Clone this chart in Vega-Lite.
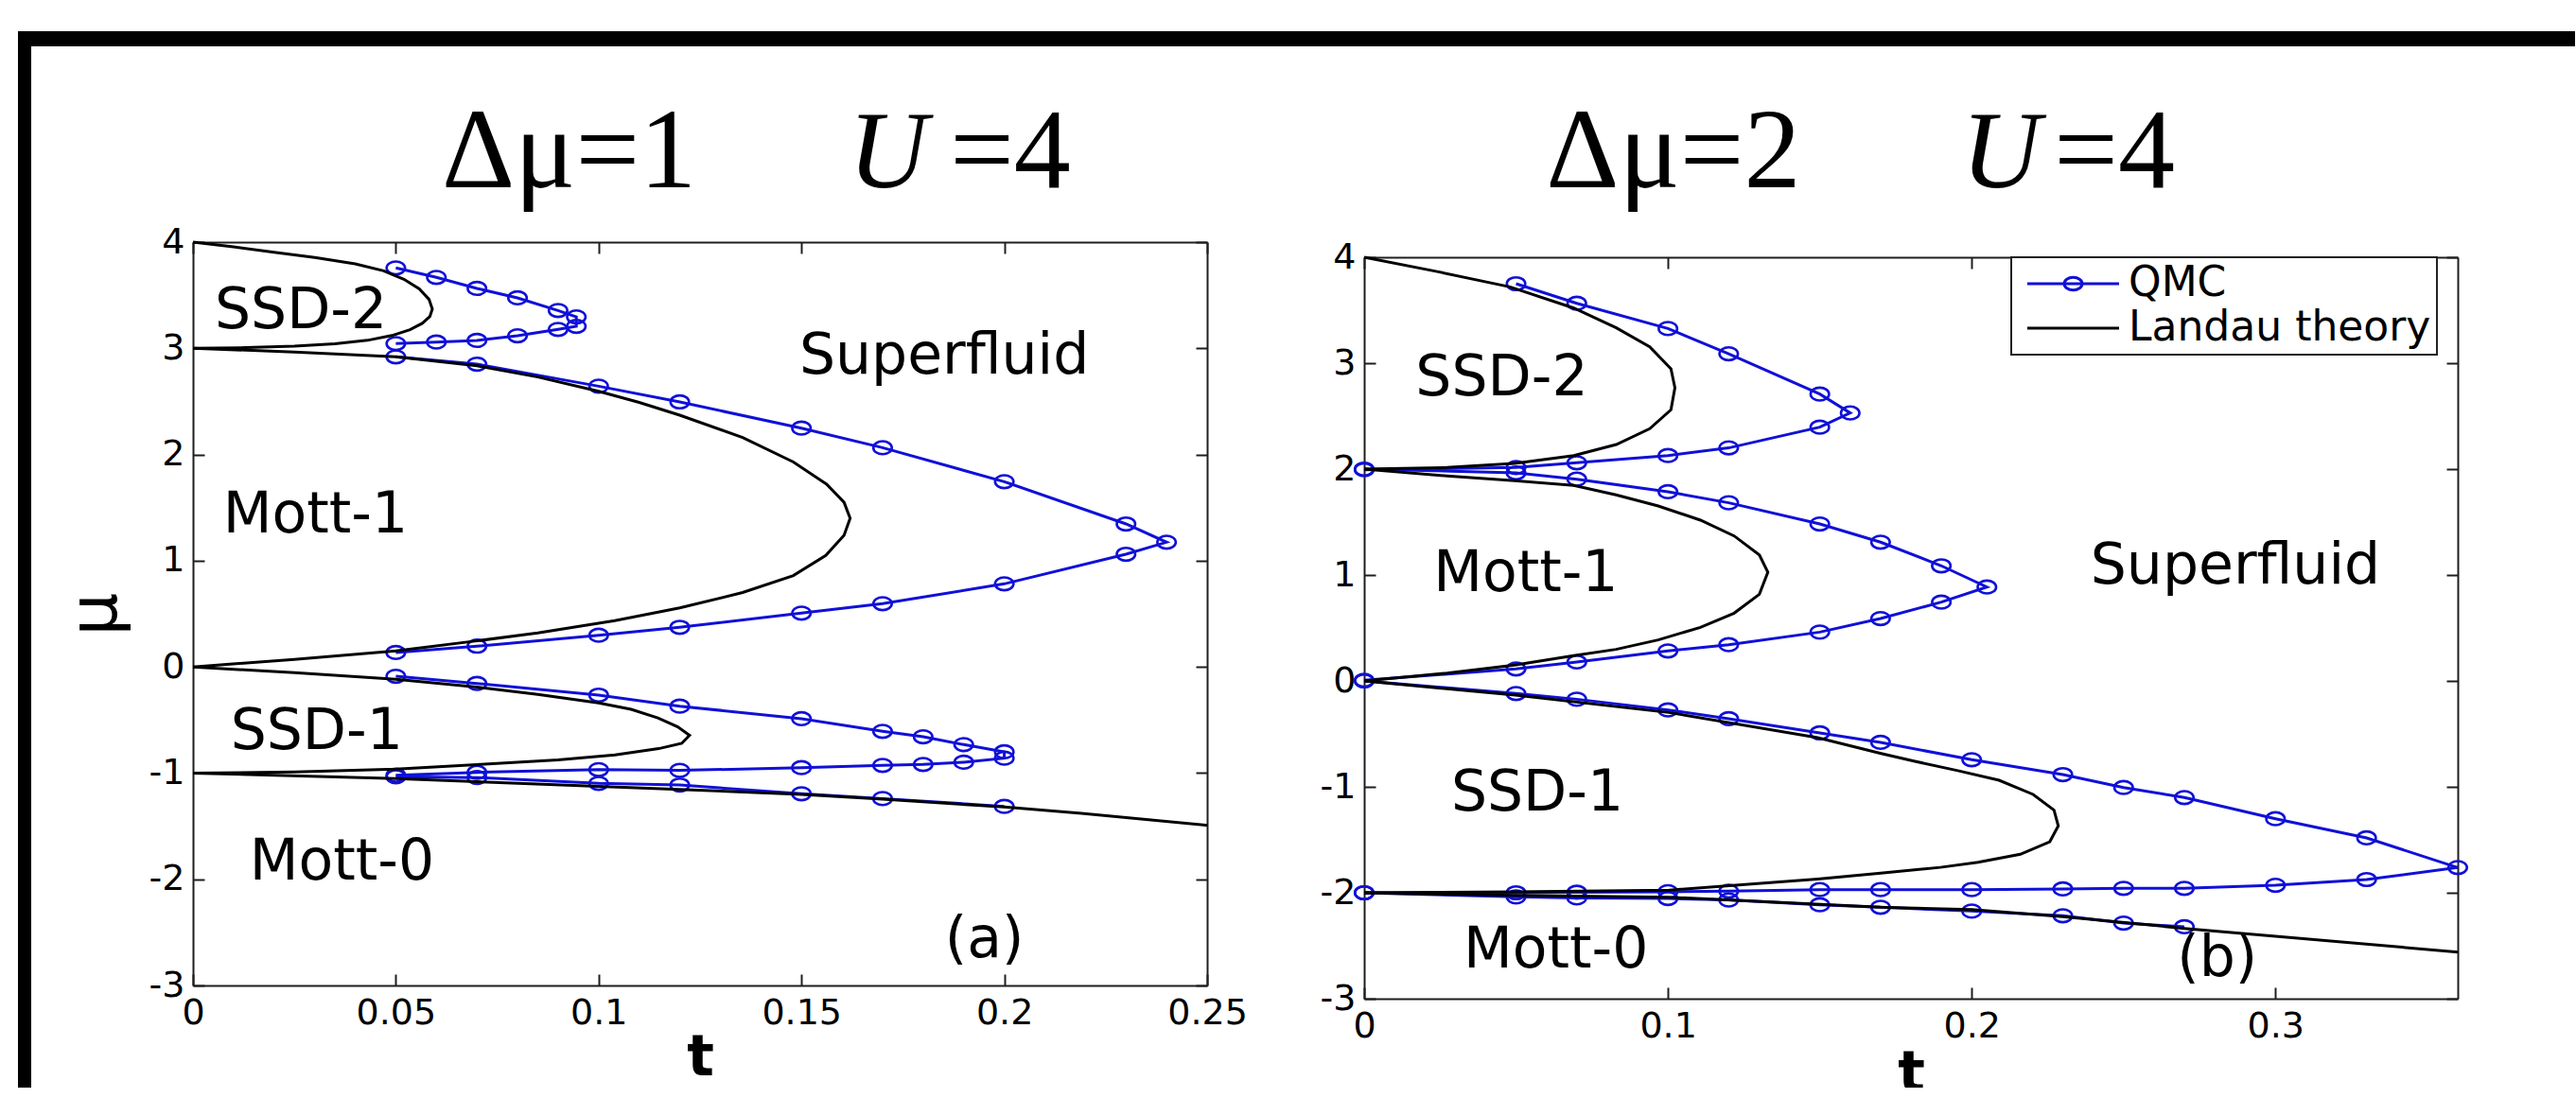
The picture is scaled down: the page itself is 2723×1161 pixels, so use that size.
{
"$schema": "https://vega.github.io/schema/vega-lite/v6.json",
"background": "#ffffff",
"padding": {"left": 18, "top": 33, "right": -3, "bottom": -15},
"config": {
  "view": {"stroke": null},
  "axis": {"grid": false, "domainColor": "#1e1e1e", "domainWidth": 2, "tickColor": "#1e1e1e", "tickWidth": 2, "tickSize": -12, "labelFont": "DejaVu Sans", "labelFontSize": 38, "labelColor": "#000000", "labelFlush": false, "labelOverlap": false, "titleColor": "#000000"},
  "legend": {"strokeWidth": 2}
},
"datasets": {
  "frame": [
    {"x1": -0.043144, "x2": 0.587687, "y1": 5.986, "y2": 5.8435},
    {"x1": -0.043144, "x2": -0.039879, "y1": 5.986, "y2": -4.0598}
  ],
  "leftLandau": [
    {"c":"a1","i":0,"t":0,"mu":4},{"c":"a1","i":1,"t":0.01,"mu":3.955},{"c":"a1","i":2,"t":0.02,"mu":3.905},{"c":"a1","i":3,"t":0.03,"mu":3.855},{"c":"a1","i":4,"t":0.04,"mu":3.795},{"c":"a1","i":5,"t":0.047,"mu":3.73},{"c":"a1","i":6,"t":0.052,"mu":3.65},{"c":"a1","i":7,"t":0.0558,"mu":3.56},{"c":"a1","i":8,"t":0.0582,"mu":3.46},{"c":"a1","i":9,"t":0.059,"mu":3.37},{"c":"a1","i":10,"t":0.0584,"mu":3.3},{"c":"a1","i":11,"t":0.0565,"mu":3.235},{"c":"a1","i":12,"t":0.0535,"mu":3.175},{"c":"a1","i":13,"t":0.049,"mu":3.12},{"c":"a1","i":14,"t":0.043,"mu":3.075},{"c":"a1","i":15,"t":0.035,"mu":3.042},{"c":"a1","i":16,"t":0.025,"mu":3.02},{"c":"a1","i":17,"t":0.013,"mu":3.006},{"c":"a1","i":18,"t":0,"mu":3},
    {"c":"a2","i":0,"t":0,"mu":3},{"c":"a2","i":1,"t":0.025,"mu":2.965},{"c":"a2","i":2,"t":0.05,"mu":2.92},{"c":"a2","i":3,"t":0.07,"mu":2.835},{"c":"a2","i":4,"t":0.085,"mu":2.73},{"c":"a2","i":5,"t":0.1,"mu":2.595},{"c":"a2","i":6,"t":0.11,"mu":2.49},{"c":"a2","i":7,"t":0.12,"mu":2.37},{"c":"a2","i":8,"t":0.1355,"mu":2.16},{"c":"a2","i":9,"t":0.148,"mu":1.93},{"c":"a2","i":10,"t":0.1562,"mu":1.72},{"c":"a2","i":11,"t":0.1605,"mu":1.55},{"c":"a2","i":12,"t":0.162,"mu":1.4},{"c":"a2","i":13,"t":0.1605,"mu":1.24},{"c":"a2","i":14,"t":0.156,"mu":1.05},{"c":"a2","i":15,"t":0.148,"mu":0.86},{"c":"a2","i":16,"t":0.1355,"mu":0.7},{"c":"a2","i":17,"t":0.12,"mu":0.555},{"c":"a2","i":18,"t":0.104,"mu":0.435},{"c":"a2","i":19,"t":0.085,"mu":0.32},{"c":"a2","i":20,"t":0.07,"mu":0.245},{"c":"a2","i":21,"t":0.05,"mu":0.15},{"c":"a2","i":22,"t":0.025,"mu":0.07},{"c":"a2","i":23,"t":0,"mu":0},
    {"c":"a3","i":0,"t":0,"mu":0},{"c":"a3","i":1,"t":0.025,"mu":-0.055},{"c":"a3","i":2,"t":0.05,"mu":-0.117},{"c":"a3","i":3,"t":0.07,"mu":-0.19},{"c":"a3","i":4,"t":0.085,"mu":-0.26},{"c":"a3","i":5,"t":0.1,"mu":-0.34},{"c":"a3","i":6,"t":0.108,"mu":-0.4},{"c":"a3","i":7,"t":0.1146,"mu":-0.48},{"c":"a3","i":8,"t":0.1195,"mu":-0.565},{"c":"a3","i":9,"t":0.1224,"mu":-0.645},{"c":"a3","i":10,"t":0.1205,"mu":-0.72},{"c":"a3","i":11,"t":0.1148,"mu":-0.77},{"c":"a3","i":12,"t":0.104,"mu":-0.83},{"c":"a3","i":13,"t":0.09,"mu":-0.875},{"c":"a3","i":14,"t":0.07,"mu":-0.92},{"c":"a3","i":15,"t":0.05,"mu":-0.962},{"c":"a3","i":16,"t":0.025,"mu":-0.99},{"c":"a3","i":17,"t":0,"mu":-1},
    {"c":"a4","i":0,"t":0,"mu":-1},{"c":"a4","i":1,"t":0.05,"mu":-1.052},{"c":"a4","i":2,"t":0.1,"mu":-1.125},{"c":"a4","i":3,"t":0.15,"mu":-1.2},{"c":"a4","i":4,"t":0.17,"mu":-1.246},{"c":"a4","i":5,"t":0.2,"mu":-1.32},{"c":"a4","i":6,"t":0.219,"mu":-1.379},{"c":"a4","i":7,"t":0.25,"mu":-1.492}
  ],
  "leftQMC": [
    {"c":"q1","i":0,"t":0.05,"mu":3.757},{"c":"q1","i":1,"t":0.06,"mu":3.668},{"c":"q1","i":2,"t":0.07,"mu":3.564},{"c":"q1","i":3,"t":0.08,"mu":3.475},{"c":"q1","i":4,"t":0.09,"mu":3.356},{"c":"q1","i":5,"t":0.0945,"mu":3.296},{"c":"q1","i":6,"t":0.0945,"mu":3.207},{"c":"q1","i":7,"t":0.09,"mu":3.178},{"c":"q1","i":8,"t":0.08,"mu":3.118},{"c":"q1","i":9,"t":0.07,"mu":3.074},{"c":"q1","i":10,"t":0.06,"mu":3.059},{"c":"q1","i":11,"t":0.05,"mu":3.044},
    {"c":"q2","i":0,"t":0.05,"mu":2.92},{"c":"q2","i":1,"t":0.07,"mu":2.851},{"c":"q2","i":2,"t":0.1,"mu":2.643},{"c":"q2","i":3,"t":0.12,"mu":2.495},{"c":"q2","i":4,"t":0.15,"mu":2.248},{"c":"q2","i":5,"t":0.17,"mu":2.064},{"c":"q2","i":6,"t":0.2,"mu":1.744},{"c":"q2","i":7,"t":0.23,"mu":1.346},{"c":"q2","i":8,"t":0.24,"mu":1.174},{"c":"q2","i":9,"t":0.23,"mu":1.061},{"c":"q2","i":10,"t":0.2,"mu":0.782},{"c":"q2","i":11,"t":0.17,"mu":0.595},{"c":"q2","i":12,"t":0.15,"mu":0.506},{"c":"q2","i":13,"t":0.12,"mu":0.373},{"c":"q2","i":14,"t":0.1,"mu":0.298},{"c":"q2","i":15,"t":0.07,"mu":0.195},{"c":"q2","i":16,"t":0.05,"mu":0.135},
    {"c":"q3","i":0,"t":0.05,"mu":-0.088},{"c":"q3","i":1,"t":0.07,"mu":-0.156},{"c":"q3","i":2,"t":0.1,"mu":-0.266},{"c":"q3","i":3,"t":0.12,"mu":-0.37},{"c":"q3","i":4,"t":0.15,"mu":-0.488},{"c":"q3","i":5,"t":0.17,"mu":-0.607},{"c":"q3","i":6,"t":0.18,"mu":-0.658},{"c":"q3","i":7,"t":0.19,"mu":-0.732},{"c":"q3","i":8,"t":0.2,"mu":-0.8},{"c":"q3","i":9,"t":0.2,"mu":-0.86},{"c":"q3","i":10,"t":0.19,"mu":-0.898},{"c":"q3","i":11,"t":0.18,"mu":-0.919},{"c":"q3","i":12,"t":0.17,"mu":-0.928},{"c":"q3","i":13,"t":0.15,"mu":-0.949},{"c":"q3","i":14,"t":0.12,"mu":-0.975},{"c":"q3","i":15,"t":0.1,"mu":-0.968},{"c":"q3","i":16,"t":0.07,"mu":-0.993},{"c":"q3","i":17,"t":0.05,"mu":-1.02},
    {"c":"q4","i":0,"t":0.05,"mu":-1.035},{"c":"q4","i":1,"t":0.07,"mu":-1.042},{"c":"q4","i":2,"t":0.1,"mu":-1.097},{"c":"q4","i":3,"t":0.12,"mu":-1.112},{"c":"q4","i":4,"t":0.15,"mu":-1.195},{"c":"q4","i":5,"t":0.17,"mu":-1.24},{"c":"q4","i":6,"t":0.2,"mu":-1.314}
  ],
  "rightLandau": [
    {"c":"b1","i":0,"t":0,"mu":4},{"c":"b1","i":1,"t":0.024,"mu":3.865},{"c":"b1","i":2,"t":0.048,"mu":3.72},{"c":"b1","i":3,"t":0.069,"mu":3.52},{"c":"b1","i":4,"t":0.083,"mu":3.333},{"c":"b1","i":5,"t":0.094,"mu":3.155},{"c":"b1","i":6,"t":0.101,"mu":2.946},{"c":"b1","i":7,"t":0.1023,"mu":2.768},{"c":"b1","i":8,"t":0.101,"mu":2.56},{"c":"b1","i":9,"t":0.094,"mu":2.381},{"c":"b1","i":10,"t":0.083,"mu":2.232},{"c":"b1","i":11,"t":0.069,"mu":2.128},{"c":"b1","i":12,"t":0.0495,"mu":2.054},{"c":"b1","i":13,"t":0.0273,"mu":2.015},{"c":"b1","i":14,"t":0,"mu":2},
    {"c":"b2","i":0,"t":0,"mu":2},{"c":"b2","i":1,"t":0.0273,"mu":1.935},{"c":"b2","i":2,"t":0.0495,"mu":1.89},{"c":"b2","i":3,"t":0.069,"mu":1.845},{"c":"b2","i":4,"t":0.0829,"mu":1.756},{"c":"b2","i":5,"t":0.0968,"mu":1.652},{"c":"b2","i":6,"t":0.1107,"mu":1.518},{"c":"b2","i":7,"t":0.1218,"mu":1.369},{"c":"b2","i":8,"t":0.1301,"mu":1.19},{"c":"b2","i":9,"t":0.1329,"mu":1.027},{"c":"b2","i":10,"t":0.1301,"mu":0.818},{"c":"b2","i":11,"t":0.1218,"mu":0.64},{"c":"b2","i":12,"t":0.1107,"mu":0.506},{"c":"b2","i":13,"t":0.0968,"mu":0.387},{"c":"b2","i":14,"t":0.0829,"mu":0.298},{"c":"b2","i":15,"t":0.069,"mu":0.238},{"c":"b2","i":16,"t":0.0495,"mu":0.149},{"c":"b2","i":17,"t":0.0273,"mu":0.074},{"c":"b2","i":18,"t":0,"mu":0},
    {"c":"b3","i":0,"t":0,"mu":0},{"c":"b3","i":1,"t":0.0498,"mu":-0.134},{"c":"b3","i":2,"t":0.1003,"mu":-0.298},{"c":"b3","i":3,"t":0.1493,"mu":-0.536},{"c":"b3","i":4,"t":0.1702,"mu":-0.685},{"c":"b3","i":5,"t":0.1813,"mu":-0.759},{"c":"b3","i":6,"t":0.1951,"mu":-0.845},{"c":"b3","i":7,"t":0.209,"mu":-0.938},{"c":"b3","i":8,"t":0.2202,"mu":-1.071},{"c":"b3","i":9,"t":0.2271,"mu":-1.22},{"c":"b3","i":10,"t":0.2285,"mu":-1.369},{"c":"b3","i":11,"t":0.2257,"mu":-1.518},{"c":"b3","i":12,"t":0.216,"mu":-1.637},{"c":"b3","i":13,"t":0.2021,"mu":-1.712},{"c":"b3","i":14,"t":0.1897,"mu":-1.76},{"c":"b3","i":15,"t":0.17,"mu":-1.815},{"c":"b3","i":16,"t":0.1493,"mu":-1.87},{"c":"b3","i":17,"t":0.1003,"mu":-1.975},{"c":"b3","i":18,"t":0.0498,"mu":-1.99},{"c":"b3","i":19,"t":0,"mu":-2},
    {"c":"b4","i":0,"t":0,"mu":-2},{"c":"b4","i":1,"t":0.0498,"mu":-2.024},{"c":"b4","i":2,"t":0.1003,"mu":-2.042},{"c":"b4","i":3,"t":0.17,"mu":-2.137},{"c":"b4","i":4,"t":0.2,"mu":-2.158},{"c":"b4","i":5,"t":0.23,"mu":-2.226},{"c":"b4","i":6,"t":0.27,"mu":-2.336},{"c":"b4","i":7,"t":0.3,"mu":-2.41},{"c":"b4","i":8,"t":0.36,"mu":-2.56}
  ],
  "rightQMC": [
    {"c":"p1","i":0,"t":0.05,"mu":3.75},{"c":"p1","i":1,"t":0.07,"mu":3.565},{"c":"p1","i":2,"t":0.1,"mu":3.327},{"c":"p1","i":3,"t":0.12,"mu":3.089},{"c":"p1","i":4,"t":0.15,"mu":2.708},{"c":"p1","i":5,"t":0.16,"mu":2.53},{"c":"p1","i":6,"t":0.15,"mu":2.396},{"c":"p1","i":7,"t":0.12,"mu":2.2},{"c":"p1","i":8,"t":0.1,"mu":2.128},{"c":"p1","i":9,"t":0.07,"mu":2.06},{"c":"p1","i":10,"t":0.05,"mu":2.015},{"c":"p1","i":11,"t":0,"mu":1.994},
    {"c":"p2","i":0,"t":0,"mu":2},{"c":"p2","i":1,"t":0.05,"mu":1.964},{"c":"p2","i":2,"t":0.07,"mu":1.905},{"c":"p2","i":3,"t":0.1,"mu":1.786},{"c":"p2","i":4,"t":0.12,"mu":1.682},{"c":"p2","i":5,"t":0.15,"mu":1.482},{"c":"p2","i":6,"t":0.17,"mu":1.31},{"c":"p2","i":7,"t":0.19,"mu":1.087},{"c":"p2","i":8,"t":0.205,"mu":0.887},{"c":"p2","i":9,"t":0.19,"mu":0.744},{"c":"p2","i":10,"t":0.17,"mu":0.589},{"c":"p2","i":11,"t":0.15,"mu":0.461},{"c":"p2","i":12,"t":0.12,"mu":0.342},{"c":"p2","i":13,"t":0.1,"mu":0.283},{"c":"p2","i":14,"t":0.07,"mu":0.179},{"c":"p2","i":15,"t":0.05,"mu":0.113},{"c":"p2","i":16,"t":0,"mu":0.006},
    {"c":"p3","i":0,"t":0,"mu":0},{"c":"p3","i":1,"t":0.05,"mu":-0.119},{"c":"p3","i":2,"t":0.07,"mu":-0.173},{"c":"p3","i":3,"t":0.1,"mu":-0.274},{"c":"p3","i":4,"t":0.12,"mu":-0.357},{"c":"p3","i":5,"t":0.15,"mu":-0.491},{"c":"p3","i":6,"t":0.17,"mu":-0.58},{"c":"p3","i":7,"t":0.2,"mu":-0.744},{"c":"p3","i":8,"t":0.23,"mu":-0.884},{"c":"p3","i":9,"t":0.25,"mu":-1.006},{"c":"p3","i":10,"t":0.27,"mu":-1.101},{"c":"p3","i":11,"t":0.3,"mu":-1.301},{"c":"p3","i":12,"t":0.33,"mu":-1.482},{"c":"p3","i":13,"t":0.36,"mu":-1.762},{"c":"p3","i":14,"t":0.33,"mu":-1.875},{"c":"p3","i":15,"t":0.3,"mu":-1.929},{"c":"p3","i":16,"t":0.27,"mu":-1.958},{"c":"p3","i":17,"t":0.25,"mu":-1.958},{"c":"p3","i":18,"t":0.23,"mu":-1.964},{"c":"p3","i":19,"t":0.2,"mu":-1.97},{"c":"p3","i":20,"t":0.17,"mu":-1.97},{"c":"p3","i":21,"t":0.15,"mu":-1.97},{"c":"p3","i":22,"t":0.12,"mu":-1.985},{"c":"p3","i":23,"t":0.1,"mu":-1.99},{"c":"p3","i":24,"t":0.07,"mu":-1.995},{"c":"p3","i":25,"t":0.05,"mu":-2.0},{"c":"p3","i":26,"t":0,"mu":-2},
    {"c":"p4","i":0,"t":0,"mu":-2},{"c":"p4","i":1,"t":0.05,"mu":-2.039},{"c":"p4","i":2,"t":0.07,"mu":-2.048},{"c":"p4","i":3,"t":0.1,"mu":-2.054},{"c":"p4","i":4,"t":0.12,"mu":-2.068},{"c":"p4","i":5,"t":0.15,"mu":-2.113},{"c":"p4","i":6,"t":0.17,"mu":-2.137},{"c":"p4","i":7,"t":0.2,"mu":-2.173},{"c":"p4","i":8,"t":0.23,"mu":-2.217},{"c":"p4","i":9,"t":0.25,"mu":-2.286},{"c":"p4","i":10,"t":0.27,"mu":-2.321}
  ],
  "leftLabels": [
    {"label":"SSD-2","t":0.0266,"mu":3.19},{"label":"Mott-1","t":0.0302,"mu":1.266},{"label":"Superfluid","t":0.1852,"mu":2.762},{"label":"SSD-1","t":0.0305,"mu":-0.773},{"label":"Mott-0","t":0.0367,"mu":-2.0},{"label":"(a)","t":0.1951,"mu":-2.733}
  ],
  "rightLabels": [
    {"label":"SSD-2","t":0.0453,"mu":2.696},{"label":"Mott-1","t":0.0532,"mu":0.848},{"label":"Superfluid","t":0.2868,"mu":0.92},{"label":"SSD-1","t":0.057,"mu":-1.223},{"label":"Mott-0","t":0.0631,"mu":-2.705},{"label":"(b)","t":0.2808,"mu":-2.79}
  ],
  "leftTitles": [
    {"label":"Δμ=1","t":0.0927,"mu":4.5165},{"label":"U","t":0.1713,"mu":4.5165},{"label":"=4","t":0.2015,"mu":4.5165}
  ],
  "rightTitles": [
    {"label":"Δμ=2","t":0.1018,"mu":4.661},{"label":"U","t":0.2096,"mu":4.661},{"label":"=4","t":0.247,"mu":4.661}
  ]
},
"bounds": "flush",
"spacing": 166,
"resolve": {"scale": {"color": "independent"}, "legend": {"color": "independent"}},
"hconcat": [
  {
    "width": 1072, "height": 786,
    "resolve": {"axis": {"x": "independent", "y": "independent"}},
    "layer": [
      {"data": {"name": "frame"}, "mark": {"type": "rect", "color": "#000000", "opacity": 1},
       "encoding": {
         "x": {"field": "x1", "type": "quantitative", "scale": {"domain": [0, 0.25], "nice": false, "zero": false}, "axis": null},
         "x2": {"field": "x2"},
         "y": {"field": "y1", "type": "quantitative", "scale": {"domain": [-3, 4], "nice": false, "zero": false}, "axis": null},
         "y2": {"field": "y2"}}},
      {"data": {"name": "leftQMC"}, "mark": {"type": "line", "color": "#1010d8", "strokeWidth": 3},
       "encoding": {
         "x": {"field": "t", "type": "quantitative", "scale": {"domain": [0, 0.25], "nice": false, "zero": false}, "axis": {"orient": "top", "values": [0, 0.05, 0.1, 0.15, 0.2, 0.25], "labels": false, "title": null}},
         "y": {"field": "mu", "type": "quantitative", "scale": {"domain": [-3, 4], "nice": false, "zero": false}, "axis": {"orient": "right", "values": [-3, -2, -1, 0, 1, 2, 3, 4], "labels": false, "title": null}},
         "detail": {"field": "c", "type": "nominal"},
         "order": {"field": "i", "type": "quantitative"}}},
      {"data": {"name": "leftQMC"}, "mark": {"type": "point", "shape": "M-1,0A1,0.7 0 1,1 1,0A1,0.7 0 1,1 -1,0Z", "size": 380, "filled": false, "stroke": "#1010d8", "strokeWidth": 2.6, "opacity": 1},
       "encoding": {
         "x": {"field": "t", "type": "quantitative", "scale": {"domain": [0, 0.25], "nice": false, "zero": false}, "axis": null},
         "y": {"field": "mu", "type": "quantitative", "scale": {"domain": [-3, 4], "nice": false, "zero": false}, "axis": null}}},
      {"data": {"name": "leftLandau"}, "mark": {"type": "line", "color": "#000000", "strokeWidth": 3},
       "encoding": {
         "x": {"field": "t", "type": "quantitative", "scale": {"domain": [0, 0.25], "nice": false, "zero": false}, "axis": {"orient": "bottom", "values": [0, 0.05, 0.1, 0.15, 0.2, 0.25], "labelExpr": "'' + datum.value", "labelPadding": 22, "title": "t", "titleFont": "DejaVu Sans", "titleFontWeight": "bold", "titleFontSize": 60, "titlePadding": -1}},
         "y": {"field": "mu", "type": "quantitative", "scale": {"domain": [-3, 4], "nice": false, "zero": false}, "axis": {"orient": "left", "values": [-3, -2, -1, 0, 1, 2, 3, 4], "labelExpr": "'' + datum.value", "labelPadding": 21, "title": "μ", "titleFont": "DejaVu Sans", "titleFontWeight": "normal", "titleFontSize": 72, "titlePadding": 20}},
         "detail": {"field": "c", "type": "nominal"},
         "order": {"field": "i", "type": "quantitative"}}},
      {"data": {"name": "leftLabels"}, "mark": {"type": "text", "font": "DejaVu Sans", "fontSize": 60, "align": "center", "baseline": "alphabetic", "color": "#000000"},
       "encoding": {
         "x": {"field": "t", "type": "quantitative", "scale": {"domain": [0, 0.25], "nice": false, "zero": false}, "axis": null},
         "y": {"field": "mu", "type": "quantitative", "scale": {"domain": [-3, 4], "nice": false, "zero": false}, "axis": null},
         "text": {"field": "label", "type": "nominal"}}},
      {"data": {"name": "leftTitles"}, "transform": [{"filter": "datum.label != 'U'"}],
       "mark": {"type": "text", "font": "Liberation Serif", "fontSize": 120, "align": "center", "baseline": "alphabetic", "color": "#000000"},
       "encoding": {
         "x": {"field": "t", "type": "quantitative", "scale": {"domain": [0, 0.25], "nice": false, "zero": false}, "axis": null},
         "y": {"field": "mu", "type": "quantitative", "scale": {"domain": [-3, 4], "nice": false, "zero": false}, "axis": null},
         "text": {"field": "label", "type": "nominal"}}},
      {"data": {"name": "leftTitles"}, "transform": [{"filter": "datum.label == 'U'"}],
       "mark": {"type": "text", "font": "Liberation Serif", "fontSize": 116, "fontStyle": "italic", "align": "center", "baseline": "alphabetic", "color": "#000000"},
       "encoding": {
         "x": {"field": "t", "type": "quantitative", "scale": {"domain": [0, 0.25], "nice": false, "zero": false}, "axis": null},
         "y": {"field": "mu", "type": "quantitative", "scale": {"domain": [-3, 4], "nice": false, "zero": false}, "axis": null},
         "text": {"field": "label", "type": "nominal"}}}
    ]
  },
  {
    "width": 1156, "height": 800,
    "resolve": {"axis": {"x": "independent", "y": "independent"}},
    "layer": [
      {"data": {"name": "rightQMC"}, "mark": {"type": "line", "color": "#1010d8", "strokeWidth": 3},
       "encoding": {
         "x": {"field": "t", "type": "quantitative", "scale": {"domain": [0, 0.36], "nice": false, "zero": false}, "axis": {"orient": "top", "offset": -16, "values": [0, 0.1, 0.2, 0.3], "labels": false, "title": null}},
         "y": {"field": "mu", "type": "quantitative", "scale": {"domain": [-3, 4], "range": [800, 16], "nice": false, "zero": false}, "axis": {"orient": "right", "values": [-3, -2, -1, 0, 1, 2, 3, 4], "labels": false, "title": null}},
         "detail": {"field": "c", "type": "nominal"},
         "order": {"field": "i", "type": "quantitative"}}},
      {"data": {"name": "rightQMC"}, "mark": {"type": "point", "shape": "M-1,0A1,0.7 0 1,1 1,0A1,0.7 0 1,1 -1,0Z", "size": 380, "filled": false, "stroke": "#1010d8", "strokeWidth": 2.6, "opacity": 1},
       "encoding": {
         "x": {"field": "t", "type": "quantitative", "scale": {"domain": [0, 0.36], "nice": false, "zero": false}, "axis": null},
         "y": {"field": "mu", "type": "quantitative", "scale": {"domain": [-3, 4], "range": [800, 16], "nice": false, "zero": false}, "axis": null}}},
      {"data": {"name": "rightLandau"}, "mark": {"type": "line", "strokeWidth": 3},
       "encoding": {
         "x": {"field": "t", "type": "quantitative", "scale": {"domain": [0, 0.36], "nice": false, "zero": false}, "axis": {"orient": "bottom", "values": [0, 0.1, 0.2, 0.3], "labelExpr": "'' + datum.value", "labelPadding": 22, "title": "t", "titleFont": "DejaVu Sans", "titleFontWeight": "bold", "titleFontSize": 60, "titlePadding": 2}},
         "y": {"field": "mu", "type": "quantitative", "scale": {"domain": [-3, 4], "range": [800, 16], "nice": false, "zero": false}, "axis": {"orient": "left", "values": [-3, -2, -1, 0, 1, 2, 3, 4], "labelExpr": "'' + datum.value", "labelPadding": 21, "title": null}},
         "detail": {"field": "c", "type": "nominal"},
         "order": {"field": "i", "type": "quantitative"},
         "color": {"datum": "Landau theory", "type": "nominal",
           "scale": {"domain": ["QMC", "Landau theory"], "range": ["#1010d8", "#000000"]},
           "legend": {"title": null, "orient": "none", "legendX": 684, "legendY": 16, "direction": "vertical",
             "padding": 6, "rowPadding": 3, "strokeColor": "#222222", "fillColor": "#ffffff",
             "labelFont": "DejaVu Sans", "labelFontSize": 44, "labelColor": "#000000", "labelLimit": 1000,
             "labelOffset": 36.5, "symbolOffset": 37.5, "symbolSize": 400, "symbolStrokeWidth": 3,
             "symbolType": {"expr": "datum.value === 'QMC' ? 'M-4.85,0H4.85M-0.95,0A0.95,0.67 0 1,1 0.95,0A0.95,0.67 0 1,1 -0.95,0' : 'M-4.85,0H4.85'"}}}}},
      {"data": {"name": "rightLabels"}, "mark": {"type": "text", "font": "DejaVu Sans", "fontSize": 60, "align": "center", "baseline": "alphabetic", "color": "#000000"},
       "encoding": {
         "x": {"field": "t", "type": "quantitative", "scale": {"domain": [0, 0.36], "nice": false, "zero": false}, "axis": null},
         "y": {"field": "mu", "type": "quantitative", "scale": {"domain": [-3, 4], "range": [800, 16], "nice": false, "zero": false}, "axis": null},
         "text": {"field": "label", "type": "nominal"}}},
      {"data": {"name": "rightTitles"}, "transform": [{"filter": "datum.label != 'U'"}],
       "mark": {"type": "text", "font": "Liberation Serif", "fontSize": 120, "align": "center", "baseline": "alphabetic", "color": "#000000"},
       "encoding": {
         "x": {"field": "t", "type": "quantitative", "scale": {"domain": [0, 0.36], "nice": false, "zero": false}, "axis": null},
         "y": {"field": "mu", "type": "quantitative", "scale": {"domain": [-3, 4], "range": [800, 16], "nice": false, "zero": false}, "axis": null},
         "text": {"field": "label", "type": "nominal"}}},
      {"data": {"name": "rightTitles"}, "transform": [{"filter": "datum.label == 'U'"}],
       "mark": {"type": "text", "font": "Liberation Serif", "fontSize": 116, "fontStyle": "italic", "align": "center", "baseline": "alphabetic", "color": "#000000"},
       "encoding": {
         "x": {"field": "t", "type": "quantitative", "scale": {"domain": [0, 0.36], "nice": false, "zero": false}, "axis": null},
         "y": {"field": "mu", "type": "quantitative", "scale": {"domain": [-3, 4], "range": [800, 16], "nice": false, "zero": false}, "axis": null},
         "text": {"field": "label", "type": "nominal"}}}
    ]
  }
]
}
